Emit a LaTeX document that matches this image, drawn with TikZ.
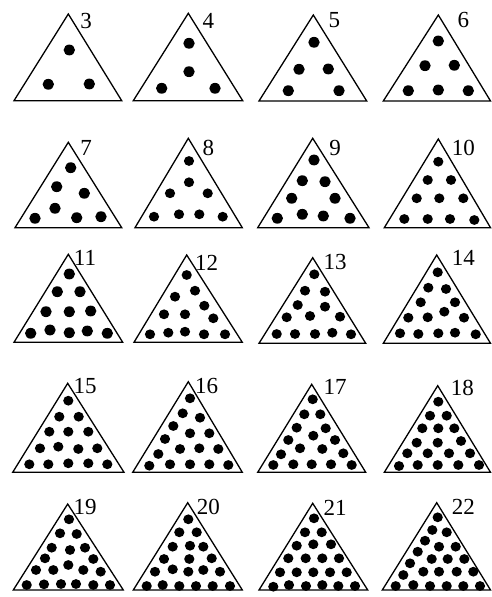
\documentclass[tikz,border=0pt]{standalone}
\usepackage{fontspec}
\setmainfont{Liberation Serif}
\begin{document}
\begin{tikzpicture}[x=0.5pt,y=-0.5pt,
  tri/.style={draw=black,line width=0.65pt,line join=miter},
  lbl/.style={inner sep=0pt,font=\fontsize{11.5}{13}\selectfont},
  dot/.style={fill=black}]
\useasboundingbox (0,0) rectangle (491,597);
\newcommand{\mytri}[3]{\draw[tri] #1 -- #2 -- #3 -- cycle;}
\newcommand{\mydots}[1]{\foreach \p in {#1} {\fill[dot] \p ellipse [x radius=2.55pt, y radius=2.45pt];}}
\newcommand{\bigdots}[1]{\foreach \p in {#1} {\fill[dot] \p ellipse [x radius=2.85pt, y radius=2.7pt];}}
% row 1
\mytri{(68.3,14)}{(14,100.7)}{(121.7,100.7)}
\node[lbl] (l3) at (86,21) {3};
\bigdots{(69.3,50),(48.3,84.3),(89.3,84)}
\mytri{(188.3,13.3)}{(133.3,100.7)}{(242.7,100.7)}
\node[lbl] (l4) at (208.3,21) {4};
\bigdots{(189,43.3),(189,71.7),(161.7,88.3),(215,88.3)}
\mytri{(313.3,15)}{(259,101)}{(366.7,101)}
\node[lbl] (l5) at (334.3,20.5) {5};
\bigdots{(314,42.3),(299,69.3),(328.3,69),(288.3,90.7),(339,90.7)}
\mytri{(438.3,15)}{(383.3,101)}{(490.5,101)}
\node[lbl] (l6) at (463.3,20.5) {6};
\bigdots{(438.3,41),(425,65.7),(454.3,65.3),(408.3,90.7),(438.3,90),(468.3,90.7)}
% row 2
\mytri{(68.3,142.3)}{(15,227.7)}{(121.7,227.7)}
\node[lbl] (l7) at (86,148.3) {7};
\bigdots{(70.7,167.7),(56.7,186.7),(84.3,193.3),(55,208.3),(35,218.3),(76.7,217.7),(101,216.7)}
\mytri{(188.3,138.3)}{(135,227.7)}{(242.3,227.7)}
\node[lbl] (l8) at (208.3,148.3) {8};
\mydots{(189,161),(189,182.3),(170,193.3),(207.7,193.3),(154,216.7),(179,214.3),(199.3,214.3),(222.7,216.7)}
\mytri{(312.7,138.3)}{(257.7,227.7)}{(369,227.7)}
\node[lbl] (l9) at (335,148.3) {9};
\bigdots{(314,160),(302.3,180.7),(325,181.7),(291.7,198.3),(335,198.3),(277.3,218.3),(302.3,214.3),(323.3,216),(350,218.3)}
\mytri{(438.3,139)}{(384.3,227.7)}{(490.5,227.7)}
\node[lbl] (l10) at (463.3,148.3) {10};
\mydots{(438.3,161.7),(427.7,180),(451,180),(416.7,198.3),(439.3,198.3),(463.3,198.3),(404.3,219),(427.7,219),(450,219),(474.3,220)}
% row 3
\mytri{(68.3,254.3)}{(14,342.3)}{(122.7,342.3)}
\node[lbl] (l11) at (85,258) {11};
\bigdots{(69.3,274),(57.3,291.7),(80,291.7),(46,311.7),(69.3,311.7),(90.7,311),(30.7,333.3),(50,330),(69.3,332.7),(87.3,331),(107.3,333.3)}
\mytri{(186.7,255)}{(134,342.3)}{(242.3,342.3)}
\node[lbl] (l12) at (206.7,263) {12};
\mydots{(186.7,275),(195,290.7),(175,296.7),(204.3,305.7),(164,314.3),(185,314.3),(213.3,318.3),(150,334.3),(168.3,332.7),(185,331.7),(204,334.3),(225,334.3)}
\mytri{(312.7,257.7)}{(259,343.3)}{(365.7,343.3)}
\node[lbl] (l13) at (335,261.7) {13};
\mydots{(314.3,274.3),(305,290.7),(325,291.7),(297.7,305),(325,306.7),(286.7,317.3),(310,316),(340,316.7),(276.7,334),(295,334),(315,334),(332.3,332.7),(351,334.3)}
\mytri{(436.7,255)}{(383.3,343.3)}{(490.5,343.3)}
\node[lbl] (l14) at (463.3,258.3) {14};
\mydots{(437.7,272.3),(428.3,287.7),(446,289),(420.7,302.3),(455,302.3),(444.3,311.7),(408.3,317.7),(427.7,317.3),(464,317.7),(400,333.3),(418.3,334),(438.3,333.3),(455,332.7),(475.7,334.3)}
% row 4
\mytri{(67.7,383.3)}{(12.7,472.3)}{(124,472.3)}
\node[lbl] (l15) at (85,385.7) {15};
\mydots{(68.3,400.7),(59.3,416.7),(78.7,416.7),(49.3,431.7),(68.3,431.7),(88.3,431.7),(40,448.3),(58.3,446.7),(78.3,449),(97.3,448.3),(29.3,464.3),(48.3,464.3),(68.3,463.3),(88.3,463.3),(107.3,464.3)}
\mytri{(188.3,381.7)}{(132.7,472.3)}{(242.3,472.3)}
\node[lbl] (l16) at (206.7,385.7) {16};
\mydots{(190,398.3),(182.7,413.3),(200,417.7),(173.3,426),(190,433.3),(209.3,433.3),(165,439),(180,449),(199.3,448.3),(218.3,449),(158.3,454),(149.3,465.7),(170,464.3),(190,464.3),(209.3,464.3),(228.3,465)}
\mytri{(311.7,384.3)}{(257.7,472.3)}{(365.7,472.3)}
\node[lbl] (l17) at (335,386.7) {17};
\mydots{(312.7,399.3),(304.3,414.3),(320.3,414.3),(296.7,427.7),(325.7,428.3),(288.3,440),(313.3,435.7),(335,440),(300,448.3),(322.3,449),(281,454.3),(343.3,453.3),(273.3,465),(293.3,464.3),(311.7,464.3),(331,464.3),(351.7,465)}
\mytri{(437.7,385.7)}{(384.3,472.3)}{(490.5,472.3)}
\node[lbl] (l18) at (462.3,388.3) {18};
\mydots{(438.3,401.7),(430,415.7),(446.7,415.7),(422.3,428.3),(438.3,428.3),(454.3,428.3),(416.7,442.7),(437.7,442.7),(461,441),(407.3,453.3),(427.7,453.3),(449,453.3),(470,453.3),(399,466),(417.7,465),(437.7,465),(458.3,465),(479,465)}
% row 5
\mytri{(67.7,504)}{(13.3,590)}{(123.3,590)}
\node[lbl] (l19) at (85,506.7) {19};
\mydots{(69,519.3),(60,533.3),(76.7,534),(51.7,547.7),(70,550),(85,547.7),(45,558.3),(93.3,559),(36,570),(53.3,570),(68.3,565),(83.3,570),(100.7,571.7),(26.7,585),(44,584.3),(61,584),(76,584),(93.3,585),(110,585)}
\mytri{(187.7,502.7)}{(133.3,590)}{(242.3,590)}
\node[lbl] (l20) at (208.3,506.7) {20};
\mydots{(188.3,519.3),(179.3,532.3),(196.7,532.3),(172.7,546.7),(190,545.7),(203.3,546.7),(164,559),(189.3,559),(211.7,558.3),(155,571.7),(172.7,569.3),(188.3,571.7),(203.3,570),(220,571.7),(146.7,586),(162.7,585),(179.3,586),(196,586),(212.7,586),(230,586)}
\mytri{(312.7,503.3)}{(259,590)}{(367.7,590)}
\node[lbl] (l21) at (335,508.3) {21};
\mydots{(314,518.3),(305,532.3),(321.7,532.3),(296.7,545.7),(313.3,544.3),(331,544.3),(288.3,558.3),(305.7,558.3),(322.3,558.3),(339,558.3),(280,572.3),(296.7,572.3),(313.3,572.3),(330,572.3),(346.7,572.3),(273.3,586.7),(289,585),(306,586),(322.3,585),(338.3,586),(355,586)}
\mytri{(436.7,502.7)}{(382.3,590)}{(490.5,590)}
\node[lbl] (l22) at (463.3,506.7) {22};
\mydots{(437.7,517.3),(432.3,530),(446.7,532.3),(425,540.7),(439,546.7),(455.7,546.7),(417.7,551.7),(431.7,559),(447.7,559),(464.3,559),(410,563.3),(423.3,571.7),(439,571.7),(456.7,571.7),(473.3,571.7),(403.3,575),(395.7,586),(413.3,585),(430,586),(446.7,586),(463.3,586),(480,586)}
\end{tikzpicture}
\end{document}
